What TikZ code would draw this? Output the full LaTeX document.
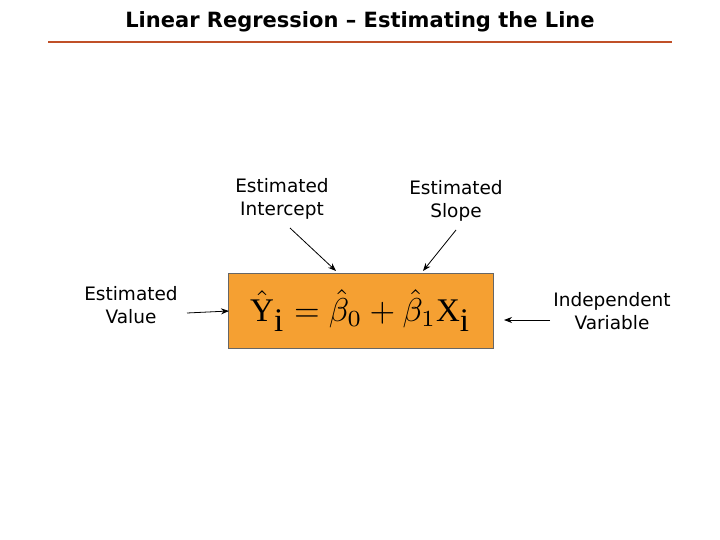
\documentclass[tikz,border=0pt]{standalone}
\usepackage{graphicx}
\usepackage{fontspec}
\setmainfont{DejaVu Sans}
\newfontfamily\eqfont{Liberation Serif}
\newcommand{\er}[1]{\hbox{\eqfont #1}}
\usetikzlibrary{arrows.meta}
\begin{document}
\begin{tikzpicture}[x=1pt,y=-1pt,
 lbl/.style={align=center,font=\fontsize{18.5}{23}\selectfont},
 arr/.style={-{Stealth[length=8pt,width=6pt]},thick}]
\useasboundingbox (0,0) rectangle (720,540);
\node[font=\fontsize{21}{24}\selectfont\bfseries] (title) at (360,22) {Linear Regression – Estimating the Line};
\draw[line width=2.5pt,color={rgb,255:red,192;green,80;blue,40}] (48,42) -- (672,42);
\node[draw=black!60,fill={rgb,255:red,245;green,160;blue,50},minimum width=265pt,minimum height=75pt,inner sep=0pt] (box) at (360.5,310.5)
 {\scalebox{3.3}{$\hat{\er{Y}}_{\er{i}} = \hat{\beta}_0 + \hat{\beta}_1\er{X}_{\er{i}}$}};
\node[lbl] (int) at (282,199) {Estimated\\Intercept};
\node[lbl] (slo) at (456,201) {Estimated\\Slope};
\node[lbl] (val) at (131,305) {Estimated\\Value};
\node[lbl] (ind) at (612,311) {Independent\\Variable};
\coordinate (a1) at (336,271); \coordinate (a2) at (423,271);
\coordinate (a3) at (229,311); \coordinate (a4) at (504,320);
\coordinate (s1) at (290,228); \coordinate (s2) at (456,230);
\coordinate (s3) at (187,313); \coordinate (s4) at (550,320);
\draw[arr] (s1) -- (a1);
\draw[arr] (s2) -- (a2);
\draw[arr] (s3) -- (a3);
\draw[arr] (s4) -- (a4);
\end{tikzpicture}
\end{document}
